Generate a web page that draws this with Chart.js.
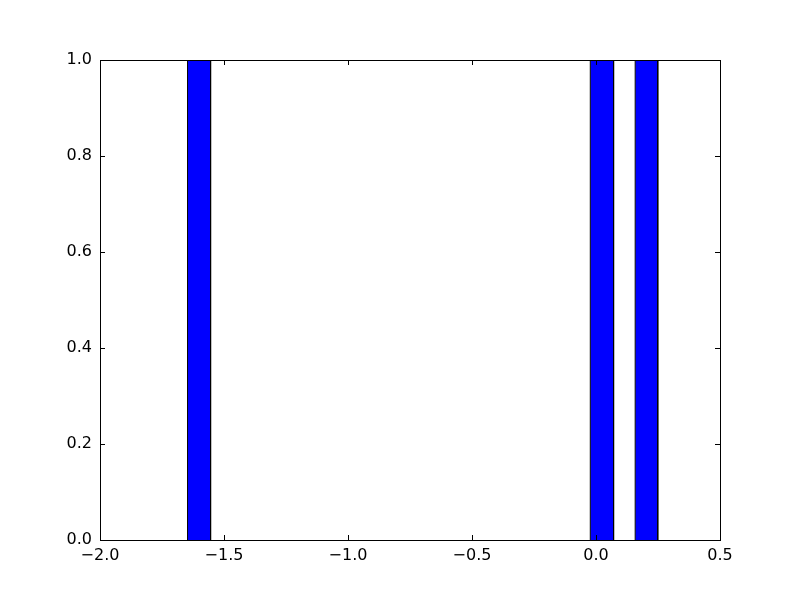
<!DOCTYPE html>
<html>
<head>
<meta charset="utf-8">
<script src="https://cdn.jsdelivr.net/npm/chart.js@4/dist/chart.umd.min.js"></script>
<style>html,body{margin:0;padding:0;background:#fff;}#wrap{width:800px;height:600px;}</style>
</head>
<body>
<div id="wrap"><canvas id="c" width="800" height="600"></canvas></div>
<script>
// Histogram bins (left edges, right edges) and counts
const binLefts  = [-1.647, -0.023, 0.158];
const binRights = [-1.554, 0.071, 0.249];
const counts    = [1, 1, 1];
const xTicks = [-2.0, -1.5, -1.0, -0.5, 0.0, 0.5];
const yTicks = [0.0, 0.2, 0.4, 0.6, 0.8, 1.0];

const fmt = v => v.toFixed(1).replace('-', '\u2212');

const datasets = binLefts.map((l, i) => ({
  data: [{x: l, y: 0}, {x: l, y: counts[i]}, {x: binRights[i], y: counts[i]}, {x: binRights[i], y: 0}],
  borderColor: '#000000',
  borderWidth: 1,
  backgroundColor: '#0000ff',
  fill: 'origin',
  pointRadius: 0,
  tension: 0
}));

const framePlugin = {
  id: 'frame',
  afterDatasetsDraw(chart) {
    const {ctx, chartArea: a, scales} = chart;
    ctx.save();
    ctx.strokeStyle = '#000';
    ctx.lineWidth = 1;
    const L = 5;
    ctx.beginPath();
    xTicks.forEach(v => {
      const px = Math.round(scales.x.getPixelForValue(v)) + 0.5;
      ctx.moveTo(px, a.bottom); ctx.lineTo(px, a.bottom - L);
      ctx.moveTo(px, a.top); ctx.lineTo(px, a.top + L);
    });
    yTicks.forEach(v => {
      const py = Math.round(scales.y.getPixelForValue(v)) + 0.5;
      ctx.moveTo(a.left, py); ctx.lineTo(a.left + L, py);
      ctx.moveTo(a.right, py); ctx.lineTo(a.right - L, py);
    });
    ctx.stroke();
    ctx.strokeRect(Math.round(a.left) + 0.5, Math.round(a.top) + 0.5,
                   Math.round(a.right - a.left), Math.round(a.bottom - a.top));
    ctx.restore();
  }
};

new Chart(document.getElementById('c'), {
  type: 'line',
  data: {datasets},
  options: {
    responsive: false,
    animation: false,
    layout: {padding: {top: 60, right: 80, left: 0, bottom: 0}},
    plugins: {legend: {display: false}, tooltip: {enabled: false}},
    scales: {
      x: {
        type: 'linear', min: -2, max: 0.5,
        afterBuildTicks: s => { s.ticks = xTicks.map(v => ({value: v})); },
        afterFit: s => { s.height = 60; },
        grid: {display: false, drawTicks: false},
        border: {display: false},
        ticks: {color: '#000', padding: 6, maxRotation: 0, font: {family: 'DejaVu Sans', size: 16}, callback: v => fmt(v)}
      },
      y: {
        type: 'linear', min: 0, max: 1,
        afterBuildTicks: s => { s.ticks = yTicks.map(v => ({value: v})); },
        afterFit: s => { s.width = 100; },
        grid: {display: false, drawTicks: false},
        border: {display: false},
        ticks: {color: '#000', padding: 8, font: {family: 'DejaVu Sans', size: 16}, callback: v => fmt(v)}
      }
    }
  },
  plugins: [framePlugin]
});
</script>
</body>
</html>
